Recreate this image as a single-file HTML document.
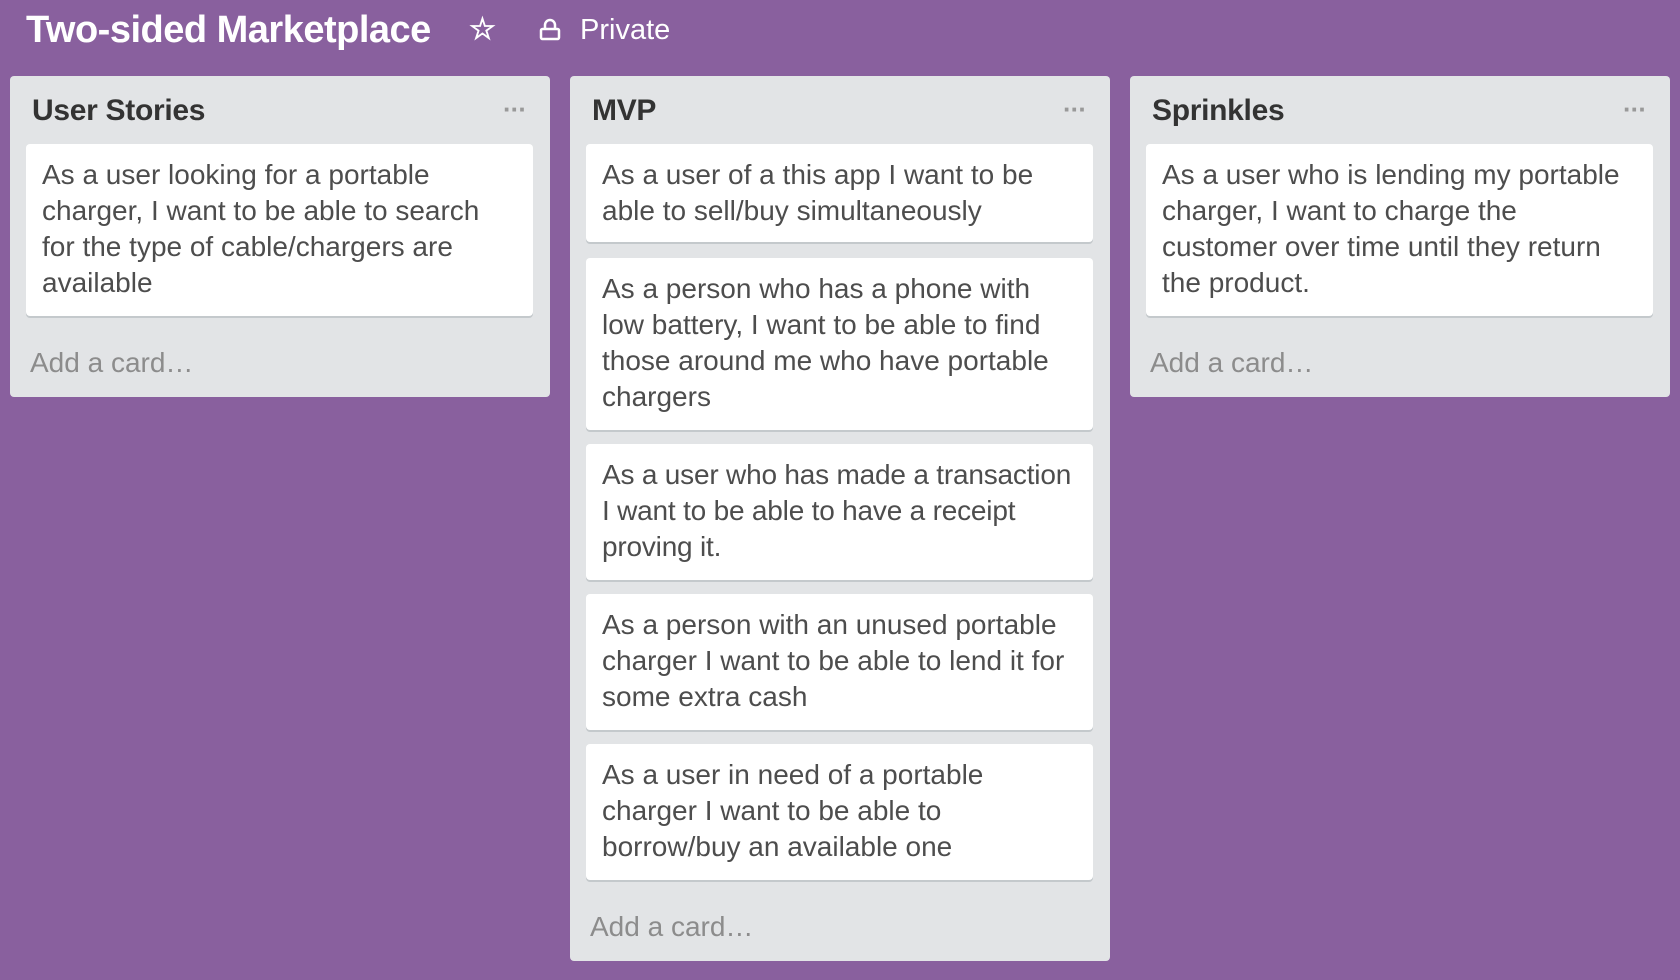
<!DOCTYPE html>
<html><head><meta charset="utf-8"><style>
*{margin:0;padding:0;box-sizing:border-box}
body{width:1680px;height:980px;background:#89609e;font-family:"Liberation Sans",Arial,sans-serif;position:relative;overflow:hidden}
.t{position:absolute;color:#fff;white-space:nowrap}
.list{position:absolute;background:#e2e4e6;border-radius:4px;width:540px}
.h{position:absolute;left:22px;top:18px;font-size:30px;font-weight:bold;color:#333;letter-spacing:-0.3px}
.dots{position:absolute;right:24px;top:18px;color:#999;font-size:26px;font-weight:bold;letter-spacing:-1px}
.card{position:absolute;left:16px;width:507px;background:#fff;border-radius:4px;box-shadow:0 2px 0 #c4c9cc;padding:13px 16px;font-size:28px;line-height:36px;color:#4d4d4d;white-space:nowrap}
.add{position:absolute;left:20px;font-size:28px;color:#8c8c8c}
</style></head><body>
<div class="t" style="left:26px;top:9px;font-size:38px;font-weight:bold;letter-spacing:-0.5px">Two-sided Marketplace</div>
<div class="t" style="left:469px;top:12px;font-size:30px;font-weight:bold">☆</div>
<svg class="t" style="left:538px;top:18px" width="24" height="24" viewBox="0 0 24 24"><path d="M7 11V7a5 5 0 0 1 10 0v4" fill="none" stroke="#fff" stroke-width="2.5"/><rect x="3" y="11" width="18" height="10" rx="1.5" fill="none" stroke="#fff" stroke-width="2.5"/></svg>
<div class="t" style="left:580px;top:14px;font-size:29px">Private</div>

<div class="list" style="left:10px;top:76px;height:321px">
<div class="h">User Stories</div><div class="dots">···</div>
<div class="card" style="top:68px;height:172px">As a user looking for a portable<br>charger, I want to be able to search<br>for the type of cable/chargers are<br>available</div>
<div class="add" style="top:271px">Add a card…</div>
</div>

<div class="list" style="left:570px;top:76px;height:885px">
<div class="h">MVP</div><div class="dots">···</div>
<div class="card" style="top:68px;height:98px">As a user of a this app I want to be<br>able to sell/buy simultaneously</div>
<div class="card" style="top:182px;height:172px">As a person who has a phone with<br>low battery, I want to be able to find<br>those around me who have portable<br>chargers</div>
<div class="card" style="top:368px;height:136px;letter-spacing:-0.2px">As a user who has made a transaction<br>I want to be able to have a receipt<br>proving it.</div>
<div class="card" style="top:518px;height:136px">As a person with an unused portable<br>charger I want to be able to lend it for<br>some extra cash</div>
<div class="card" style="top:668px;height:136px">As a user in need of a portable<br>charger I want to be able to<br>borrow/buy an available one</div>
<div class="add" style="top:835px">Add a card…</div>
</div>

<div class="list" style="left:1130px;top:76px;height:321px">
<div class="h">Sprinkles</div><div class="dots">···</div>
<div class="card" style="top:68px;height:172px">As a user who is lending my portable<br>charger, I want to charge the<br>customer over time until they return<br>the product.</div>
<div class="add" style="top:271px">Add a card…</div>
</div>
</body></html>
